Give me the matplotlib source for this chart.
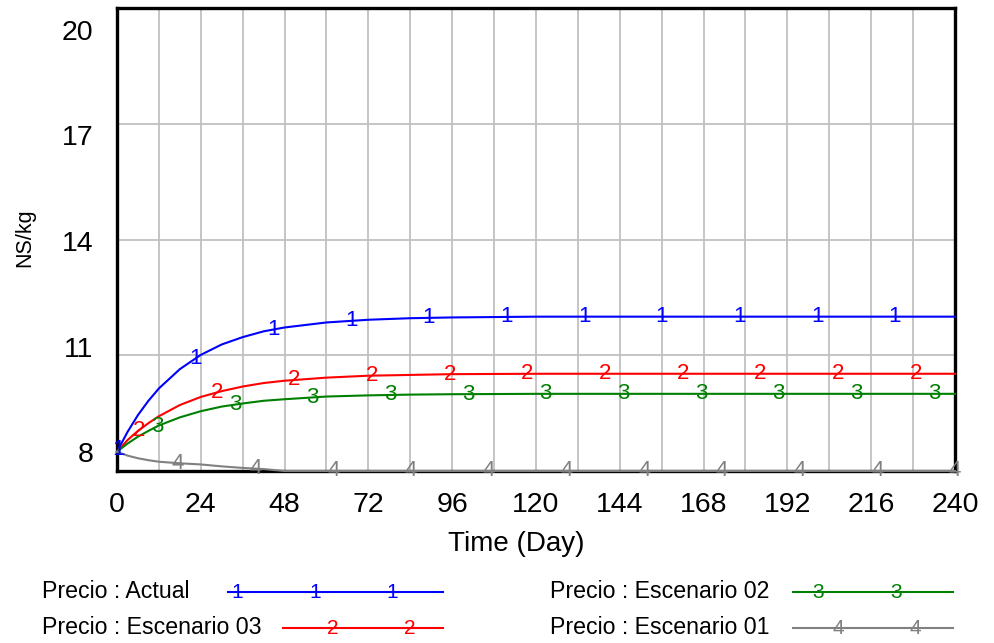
import numpy as np
import matplotlib
matplotlib.use("Agg")
import matplotlib.pyplot as plt
from matplotlib.lines import Line2D

plt.rcParams['font.family'] = ['Liberation Sans', 'DejaVu Sans']

# values (Vensim style run comparison)
time = [0, 3, 6, 9, 12, 18, 24, 30, 36, 42, 48, 60, 72, 84, 96, 120, 144, 168, 192, 216, 240]
actual = [8.5, 9.01, 9.45, 9.82, 10.14, 10.64, 11.01, 11.28, 11.47, 11.62, 11.72, 11.85, 11.92,
          11.96, 11.98, 12.0, 12.0, 12.0, 12.0, 12.0, 12.0]
escenario03 = [8.5, 8.80, 9.04, 9.24, 9.42, 9.71, 9.92, 10.07, 10.19, 10.28, 10.34, 10.42, 10.47,
               10.49, 10.51, 10.52, 10.52, 10.52, 10.52, 10.52, 10.52]
escenario02 = [8.5, 8.71, 8.89, 9.04, 9.18, 9.39, 9.55, 9.67, 9.75, 9.82, 9.86, 9.93, 9.96,
               9.98, 9.99, 10.0, 10.0, 10.0, 10.0, 10.0, 10.0]
escenario01 = [8.5, 8.40, 8.33, 8.28, 8.24, 8.20, 8.17, 8.12, 8.08, 8.05, 8.0, 8.0, 8.0,
               8.0, 8.0, 8.0, 8.0, 8.0, 8.0, 8.0, 8.0]

series_labels = ["Precio : Actual", "Precio : Escenario 03", "Precio : Escenario 02", "Precio : Escenario 01"]
series_marks = ["1", "2", "3", "4"]
colors = ["#0000ff", "#ff0000", "#008000", "#808080"]
x_ticks = list(range(0, 241, 24))
y_ticks = [8, 11, 14, 17, 20]

fig = plt.figure(figsize=(9.95, 6.43), dpi=100)
ax = fig.add_axes([117 / 995, 1 - 471 / 643, 838 / 995, 463 / 643])

all_series = [actual, escenario03, escenario02, escenario01]
mark_start = [0.3, 6.3, 11.5, 17.5]
mark_step = 22.25

for vals, col, mk, st in zip(all_series, colors, series_marks, mark_start):
    ax.plot(time, vals, color=col, lw=1.5, zorder=5, clip_on=False)
    mt = np.arange(st, 240.01, mark_step)
    mv = np.interp(mt, time, vals)
    for a, b in zip(mt, mv):
        ax.text(a, b, mk, color=col, fontsize=16, ha='center', va='center',
                zorder=6, clip_on=False)

ax.set_xlim(0, 240)
ax.set_ylim(8, 20)
ax.set_xticks(x_ticks)
ax.set_xticks(range(12, 240, 24), minor=True)
ax.set_yticks(y_ticks)
ax.set_yticklabels([])
ax.tick_params(which='both', length=0)
ax.tick_params(axis='x', labelsize=20.5, pad=15)
ax.grid(True, which='both', color='#c0c0c0', lw=1.3)
ax.set_axisbelow(True)
for sp in ax.spines.values():
    sp.set_linewidth(2.4)
    sp.set_color('black')
    sp.set_zorder(4)

# vensim places the y labels pulled toward the middle
for v in y_ticks:
    ax.text(-0.028, v - (v - 13.58) * 0.0883 - 0.08, str(v), transform=ax.get_yaxis_transform(),
            ha='right', va='center', fontsize=20.5)

fig.text(516 / 995, 1 - 544 / 643, "Time (Day)", ha='center', va='center', fontsize=20)
fig.text(25 / 995, 1 - 238 / 643, "NS/kg", rotation=90, ha='center', va='center', fontsize=15.5)

# legend drawn by hand, two columns
leg_text_x = [42, 42, 550, 550]
leg_y = [592, 628, 592, 628]
leg_line = [(228, 443), (283, 443), (793, 953), (793, 953)]
leg_marks = [[237, 315, 392], [333, 410], [818, 896], [838, 915]]
for lab, col, mk, tx, ty, (l0, l1), mxs in zip(series_labels, colors, series_marks,
                                              leg_text_x, leg_y, leg_line, leg_marks):
    fy = 1 - ty / 643
    fig.text(tx / 995, fy, lab, ha='left', va='center', fontsize=16.7)
    fig.add_artist(Line2D([l0 / 995, l1 / 995], [fy, fy], color=col, lw=1.5))
    for mx in mxs:
        fig.text(mx / 995, fy, mk, color=col, ha='center', va='center', fontsize=15)

fig.savefig("out.png", dpi=100)
